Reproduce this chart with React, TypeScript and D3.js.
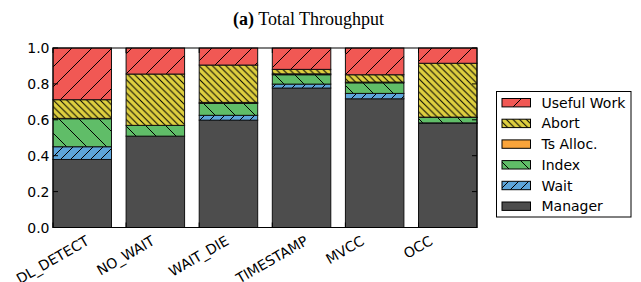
import React, { useEffect, useRef } from 'react';
import * as d3 from 'd3';

const categories = ['DL_DETECT', 'NO_WAIT', 'WAIT_DIE', 'TIMESTAMP', 'MVCC', 'OCC'];
const seriesNames = ['Manager', 'Wait', 'Index', 'Ts Alloc.', 'Abort', 'Useful Work'];
const manager = [0.379, 0.509, 0.598, 0.777, 0.717, 0.58];
const wait = [0.071, 0, 0.027, 0.022, 0.03, 0.003];
const indexVals = [0.156, 0.06, 0.066, 0.052, 0.059, 0.03];
const tsAlloc = [0.002, 0, 0.006, 0.005, 0.004, 0.002];
const abort = [0.104, 0.286, 0.208, 0.025, 0.041, 0.3];
const useful = [0.288, 0.145, 0.095, 0.119, 0.149, 0.085];
const yTicks = [0, 0.2, 0.4, 0.6, 0.8, 1.0];

const colors = ['#4D4D4D', '#5DA5DA', '#60BD68', '#FAA43A', '#DECF3F', '#F15854'];
// hatch: type and spacing
const hatches: [string, number][] = [
  ['none', 0],
  ['/', 10],
  ['\\', 20],
  ['-', 20],
  ['\\', 6.67],
  ['/', 20],
];

export default function App() {
  const ref = useRef<SVGSVGElement>(null);

  useEffect(() => {
    const svg = d3.select(ref.current);
    svg.selectAll('*').remove();

    const left = 53, right = 477, top = 48, bottom = 227.5;
    const x = d3.scaleBand<string>().domain(categories).range([left, right]).paddingInner(0.2).paddingOuter(0);
    const y = d3.scaleLinear().domain([0, 1]).range([bottom, top]);

    const rows = categories.map((c, i) => ({
      cat: c,
      'Manager': manager[i],
      'Wait': wait[i],
      'Index': indexVals[i],
      'Ts Alloc.': tsAlloc[i],
      'Abort': abort[i],
      'Useful Work': useful[i],
    }));
    const stacked = d3.stack<any>().keys(seriesNames)(rows);

    const defs = svg.append('defs');
    seriesNames.forEach((name, si) => {
      const [type, s] = hatches[si];
      if (type === 'none') return;
      const p = defs.append('pattern')
        .attr('id', 'hatch' + si)
        .attr('patternUnits', 'userSpaceOnUse')
        .attr('width', s).attr('height', s);
      if (type === '-') p.attr('patternTransform', 'translate(0,4.7)');
      p.append('rect').attr('width', s).attr('height', s).attr('fill', colors[si]);
      let d = '';
      if (type === '/') d = `M0,${s} L${s},0 M-1,1 L1,-1 M${s - 1},${s + 1} L${s + 1},${s - 1}`;
      else if (type === '\\') d = `M0,0 L${s},${s} M-1,${s - 1} L1,${s + 1} M${s - 1},-1 L${s + 1},1`;
      else d = `M0,${s / 2} L${s},${s / 2}`;
      p.append('path').attr('d', d).attr('stroke', '#000').attr('stroke-width', 1).attr('fill', 'none');
    });
    const fillFor = (si: number) => (hatches[si][0] === 'none' ? colors[si] : `url(#hatch${si})`);
    const legendFillFor = (si: number) => (hatches[si][0] === 'none' ? colors[si] : `url(#hatch${si})`);

    // title
    const title = svg.append('text')
      .attr('x', 233).attr('y', 25)
      .attr('font-family', '"Liberation Serif", "Times New Roman", serif')
      .attr('font-size', 18).attr('fill', '#000');
    title.append('tspan').attr('font-weight', 'bold').text('(a)');
    title.append('tspan').text(' Total Throughput');

    // bars
    stacked.forEach((layer, si) => {
      svg.append('g').selectAll('rect')
        .data(layer.filter((d: any) => d[1] - d[0] > 0))
        .join('rect')
        .attr('x', (d: any) => x(d.data.cat)!)
        .attr('width', x.bandwidth())
        .attr('y', (d: any) => y(d[1]))
        .attr('height', (d: any) => y(d[0]) - y(d[1]))
        .attr('fill', fillFor(si))
        .attr('stroke', '#111')
        .attr('stroke-width', 1);
    });

    // frame
    svg.append('rect')
      .attr('x', left).attr('y', top)
      .attr('width', right - left).attr('height', bottom - top)
      .attr('fill', 'none').attr('stroke', '#000').attr('stroke-width', 1);

    const font = '"DejaVu Sans", sans-serif';
    // y ticks
    const yg = svg.append('g');
    yTicks.forEach((t) => {
      const yy = y(t);
      yg.append('line').attr('x1', left).attr('x2', left + 5).attr('y1', yy).attr('y2', yy).attr('stroke', '#000');
      yg.append('line').attr('x1', right - 5).attr('x2', right).attr('y1', yy).attr('y2', yy).attr('stroke', '#000');
      yg.append('text')
        .attr('x', 49.5).attr('y', yy)
        .attr('text-anchor', 'end').attr('dominant-baseline', 'central')
        .attr('font-family', font).attr('font-size', 14).attr('fill', '#000')
        .text(d3.format('.1f')(t));
    });

    // x ticks and labels
    const xg = svg.append('g');
    categories.forEach((c) => {
      const xx = x(c)!;
      xg.append('line').attr('x1', xx).attr('x2', xx).attr('y1', bottom).attr('y2', bottom - 5).attr('stroke', '#000');
      xg.append('line').attr('x1', xx).attr('x2', xx).attr('y1', top).attr('y2', top + 5).attr('stroke', '#000');
      const t = xg.append('text')
        .attr('text-anchor', 'middle')
        .attr('font-family', font).attr('font-size', 14).attr('fill', '#000')
        .attr('y', 4)
        .text(c);
      const w = (t.node() as SVGTextElement).getComputedTextLength();
      const yTop = -0.25 * w + 0.866 * (4 - 10.2);
      const y0 = 235 - yTop;
      t.attr('transform', `translate(${xx},${y0}) rotate(-30)`);
    });

    // legend
    const lg = svg.append('g');
    lg.append('rect').attr('x', 496.5).attr('y', 91.5).attr('width', 134.5).attr('height', 125.5)
      .attr('fill', '#fff').attr('stroke', '#000').attr('stroke-width', 1);
    const order = [5, 4, 3, 2, 1, 0];
    order.forEach((si, k) => {
      const cy = 102.7 + k * 20.7;
      lg.append('rect').attr('x', 502).attr('y', cy - 4.2).attr('width', 28.5).attr('height', 8.4)
        .attr('fill', legendFillFor(si)).attr('stroke', '#000').attr('stroke-width', 1);
      lg.append('text').attr('x', 541.5).attr('y', cy)
        .attr('dominant-baseline', 'central')
        .attr('font-family', font).attr('font-size', 14).attr('fill', '#000')
        .text(seriesNames[si]);
    });
  }, []);

  return (
    <svg ref={ref} width={641} height={282}
      style={{ position: 'absolute', left: 0, top: 0, background: '#fff' }} />
  );
}
